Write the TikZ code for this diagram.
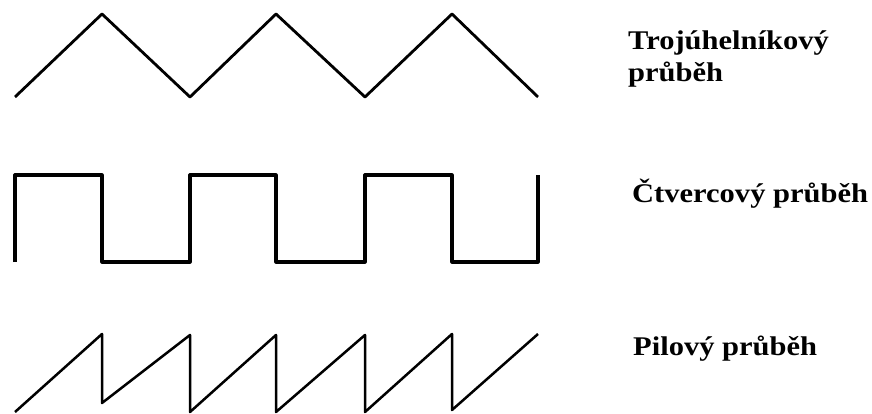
\documentclass[tikz,border=0pt]{standalone}
\usepackage{fontspec}
\newfontfamily\labelfont{Liberation Serif}[FakeStretch=1.13]
\usepackage{tikz}

\begin{document}
\begin{tikzpicture}[x=1pt,y=-1pt,line join=round,
  wave/.style={line width=2.8pt},
  lbl/.style={anchor=base west,inner sep=0pt,font=\labelfont\bfseries\fontsize{27}{32}\selectfont,align=left}]
\useasboundingbox (0,0) rectangle (872,414);
% triangle wave
\draw[wave] (15,97) -- (102,14) -- (190,97) -- (276,14) -- (365,97) -- (452,14) -- (538,97);
% square wave
\draw[wave,line width=3.2pt] (15,262) -- (15,175) -- (102,175) -- (102,262) -- (190,262) -- (190,175)
  -- (276,175) -- (276,262) -- (365,262) -- (365,175) -- (452,175) -- (452,262) -- (538,262) -- (538,175);
% sawtooth wave
\draw[wave,line width=2.5pt] (15,412) -- (102,334) -- (102,403) -- (190,335) -- (190,412) -- (276,335)
  -- (276,412) -- (365,335) -- (365,412) -- (452,334) -- (452,410) -- (538,334);
% labels
\node[lbl] (tri) at (628,82) {Trojúhelníkový\\průběh};
\node[lbl] (sq) at (632,203) {Čtvercový průběh};
\node[lbl] (saw) at (633,355) {Pilový průběh};
\end{tikzpicture}
\end{document}
